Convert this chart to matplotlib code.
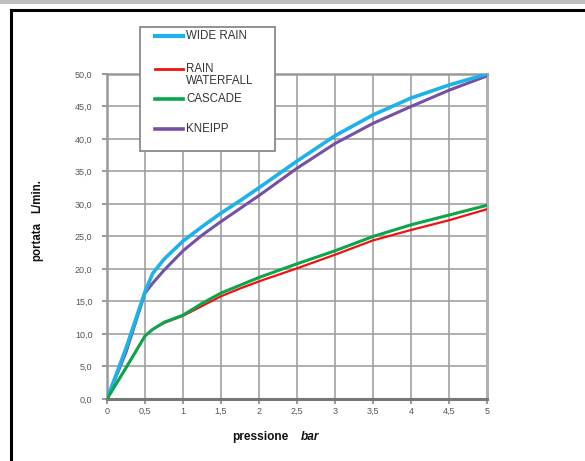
import matplotlib
matplotlib.use("Agg")
import matplotlib.pyplot as plt
from matplotlib.lines import Line2D
from matplotlib.patches import Rectangle

plt.rcParams['font.family'] = ['Liberation Sans', 'DejaVu Sans']

pressure = [0, 0.25, 0.5, 0.6, 0.75, 1, 1.25, 1.5, 1.75, 2, 2.5, 3, 3.5, 4, 4.5, 5]
wide_rain = [0, 7.8, 16.5, 19.3, 21.5, 24.3, 26.5, 28.6, 30.5, 32.5, 36.6, 40.5, 43.7, 46.3, 48.3, 50.0]
rain_waterfall = [0, 4.8, 9.7, 10.7, 11.7, 12.8, 14.3, 15.8, 17.0, 18.1, 20.1, 22.2, 24.4, 26.0, 27.5, 29.2]
cascade = [0, 4.8, 9.7, 10.7, 11.8, 12.9, 14.7, 16.3, 17.5, 18.7, 20.8, 22.8, 25.0, 26.8, 28.3, 29.8]
kneipp = [0, 7.2, 16.3, 17.8, 19.8, 22.8, 25.2, 27.3, 29.3, 31.3, 35.5, 39.3, 42.4, 45.0, 47.5, 49.7]

x_ticks = [0, 0.5, 1, 1.5, 2, 2.5, 3, 3.5, 4, 4.5, 5]
x_ticklabels = ["0", "0,5", "1", "1,5", "2", "2,5", "3", "3,5", "4", "4,5", "5"]
y_ticks = [0, 5, 10, 15, 20, 25, 30, 35, 40, 45, 50]
y_ticklabels = ["0,0", "5,0", "10,0", "15,0", "20,0", "25,0", "30,0", "35,0", "40,0", "45,0", "50,0"]

series_names = ["WIDE RAIN", "RAIN\nWATERFALL", "CASCADE", "KNEIPP"]
colors = ["#1CB2EA", "#F21010", "#0AA64B", "#7650A2"]
widths = [2.6, 1.6, 2.2, 2.2]

W, H = 585, 461
fig = plt.figure(figsize=(W / 100, H / 100), dpi=100)

def fx(x):
    return x / W

def fy(y):
    return 1 - y / H

ax = fig.add_axes([fx(107), fy(399), fx(487) - fx(107), fy(74) - fy(399)])

series = [wide_rain, rain_waterfall, cascade, kneipp]
for i in [3, 0, 1, 2]:
    ax.plot(pressure, series[i], color=colors[i], lw=widths[i], zorder=3 + (i == 2) * 0.5 + (i == 0) * 0.2)

ax.set_xlim(0, 5)
ax.set_ylim(0, 50)
ax.set_xticks(x_ticks)
ax.set_xticklabels(x_ticklabels)
ax.set_yticks(y_ticks)
ax.set_yticklabels(y_ticklabels)
ax.grid(True, color="#9a9a9a", lw=1.1, zorder=1)
ax.tick_params(axis='both', labelsize=6.5, labelcolor="#555555", color="#888888",
               length=3.5, width=1.2)
ax.tick_params(axis='y', pad=7)
ax.tick_params(axis='x', pad=7.3)
for lbl in ax.get_xticklabels():
    lbl.set_va('baseline')
for side, c, lw in [("left", "#999999", 1.8), ("bottom", "#777777", 2.2),
                    ("right", "#b0b0b0", 2.2), ("top", "#999999", 1.8)]:
    ax.spines[side].set_color(c)
    ax.spines[side].set_linewidth(lw)

# axis labels
fig.text(fx(232), fy(437), "pressione", fontsize=8.6, fontweight='bold', ha='left', va='center', color="#111111")
fig.text(fx(301), fy(437), "bar", fontsize=8.6, fontweight='bold', fontstyle='italic', ha='left', va='center', color="#111111")
fig.text(fx(37), fy(241), "portata", fontsize=8.3, fontweight='bold', rotation=90, ha='center', va='center', color="#111111")
fig.text(fx(37), fy(196), "L/min.", fontsize=8.3, fontweight='bold', rotation=90, ha='center', va='center', color="#111111")

# outer frame
fig.add_artist(Rectangle((0, fy(4)), 1, 1 - fy(4), transform=fig.transFigure, facecolor="#c0c0c0", edgecolor='none'))
fig.add_artist(Line2D([fx(10.5), fx(10.5)], [fy(10.5), 0], transform=fig.transFigure, color="black", lw=2.2))
fig.add_artist(Line2D([fx(10.5), 1], [fy(10.5), fy(10.5)], transform=fig.transFigure, color="black", lw=2.2))

# legend
fig.add_artist(Rectangle((fx(140), fy(151)), fx(275) - fx(140), fy(27) - fy(151), transform=fig.transFigure,
                         facecolor="white", edgecolor="#8a8a8a", lw=1.3, zorder=10))
leg_y = [36, 69, 99, 129]
for i in range(4):
    fig.add_artist(Line2D([fx(155), fx(183)], [fy(leg_y[i]), fy(leg_y[i])], transform=fig.transFigure,
                          color=colors[i], lw=widths[i] + 0.4, zorder=11))
    lines = series_names[i].split("\n")
    for j, t in enumerate(lines):
        fig.text(fx(186), fy(leg_y[i] + j * 12.4), t, fontsize=8.3, ha='left', va='center', color="#333333", zorder=12)

fig.savefig("out.png", dpi=100)
